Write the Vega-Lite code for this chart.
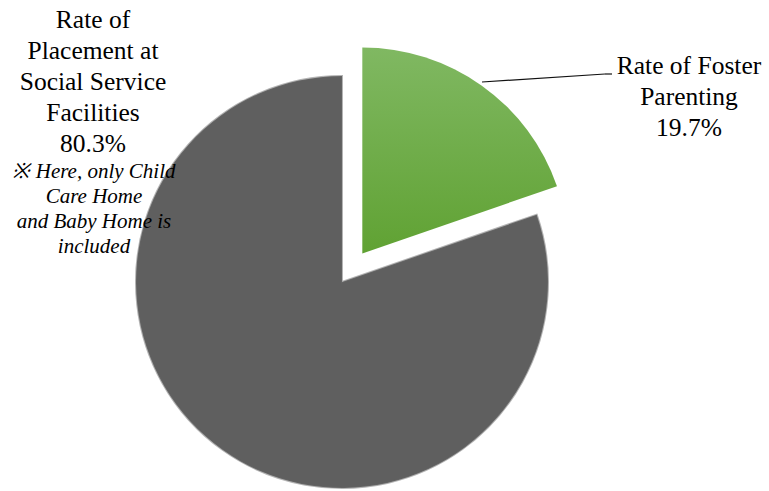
{
  "$schema": "https://vega.github.io/schema/vega-lite/v6.json",
  "width": 412,
  "height": 412,
  "autosize": {"type": "none"},
  "padding": {"left": 136, "top": 76, "right": 221, "bottom": 3},
  "background": "white",
  "config": {"view": {"stroke": null}},
  "data": {
    "values": [
      {"category": "Rate of Foster Parenting", "label": "Rate of Foster\nParenting\n19.7%", "value": 19.7, "order": 1},
      {"category": "Rate of Placement at Social Service Facilities", "label": "Rate of\nPlacement at\nSocial Service\nFacilities\n80.3%", "note": "※ Here, only Child\nCare Home\nand Baby Home is\nincluded", "value": 80.3, "order": 2}
    ]
  },
  "layer": [
    {
      "mark": {"type": "arc", "color": "#5f5f5f", "stroke": "#6a6a6a", "strokeWidth": 2, "strokeOpacity": 0.5},
      "encoding": {
        "theta": {"field": "value", "type": "quantitative", "stack": true},
        "order": {"field": "order", "type": "quantitative"},
        "opacity": {"condition": {"test": "datum.order === 2", "value": 1}, "value": 0}
      }
    },
    {
      "mark": {
        "type": "arc",
        "x": {"expr": "width/2 + 35*sin(PI*0.197)"},
        "y": {"expr": "height/2 - 35*cos(PI*0.197)"},
        "color": {
          "gradient": "linear", "x1": 0, "y1": 0, "x2": 0, "y2": 1,
          "stops": [{"offset": 0, "color": "#80b862"}, {"offset": 1, "color": "#60a233"}]
        }
      },
      "encoding": {
        "theta": {"field": "value", "type": "quantitative", "stack": true},
        "order": {"field": "order", "type": "quantitative"},
        "opacity": {"condition": {"test": "datum.order === 1", "value": 1}, "value": 0}
      }
    },
    {
      "transform": [{"filter": "datum.order === 2"}],
      "mark": {"type": "text", "x": -43, "y": -56, "align": "center", "baseline": "middle", "lineBreak": "\n", "font": "Liberation Serif", "fontSize": 25.5, "lineHeight": 31, "color": "#000000"},
      "encoding": {"text": {"field": "label", "type": "nominal"}}
    },
    {
      "transform": [{"filter": "datum.order === 2"}],
      "mark": {"type": "text", "x": -42, "y": 96, "align": "center", "baseline": "middle", "lineBreak": "\n", "font": "Liberation Serif", "fontStyle": "italic", "fontSize": 21, "lineHeight": 25, "color": "#000000"},
      "encoding": {"text": {"field": "note", "type": "nominal"}}
    },
    {
      "transform": [{"filter": "datum.order === 1"}],
      "mark": {"type": "text", "x": 553, "y": -10, "align": "center", "baseline": "middle", "lineBreak": "\n", "font": "Liberation Serif", "fontSize": 25.5, "lineHeight": 31, "color": "#000000"},
      "encoding": {"text": {"field": "label", "type": "nominal"}}
    },
    {
      "transform": [{"filter": "datum.order === 1"}],
      "mark": {"type": "rule", "color": "#111111", "strokeWidth": 1.2},
      "encoding": {
        "x": {"value": 346}, "y": {"value": 6},
        "x2": {"value": 469}, "y2": {"value": -2}
      }
    },
    {
      "transform": [{"filter": "datum.order === 1"}],
      "mark": {"type": "rule", "color": "#111111", "strokeWidth": 1.2},
      "encoding": {
        "x": {"value": 469}, "y": {"value": -2},
        "x2": {"value": 476}, "y2": {"value": -2}
      }
    }
  ]
}
